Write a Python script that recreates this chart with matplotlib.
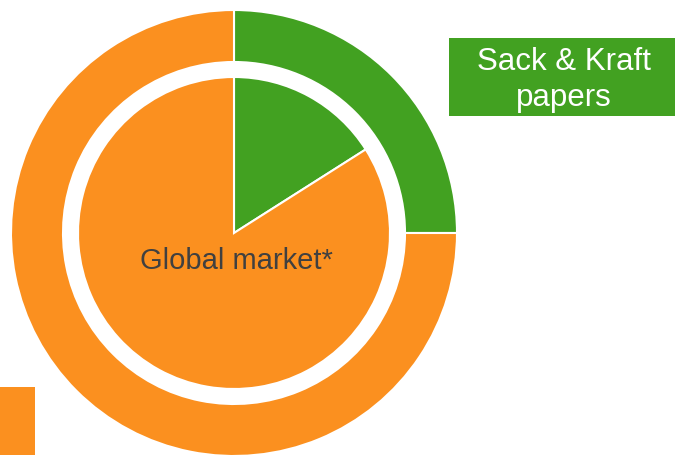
import matplotlib
matplotlib.use("Agg")
import matplotlib.pyplot as plt
from matplotlib.patches import Rectangle

plt.rcParams['font.family'] = ['Liberation Sans', 'DejaVu Sans']

GREEN = '#42A121'
ORANGE = '#FB901F'
TEXT = '#404040'

# shares in percent: sack & kraft papers vs. rest
segment_labels = ['Sack & Kraft papers', 'Other']
outer_shares = [25, 75]
inner_shares = [16, 84]
centre_label = 'Global market*'
box_label = 'Sack & Kraft\npapers'

W, H = 675, 456
fig = plt.figure(figsize=(W / 100, H / 100), dpi=100)
ax = fig.add_axes([0, 0, 1, 1])

cx, cy = 234, H - 234
colors = [GREEN, ORANGE]

ax.pie(outer_shares, colors=colors, radius=223, center=(cx, cy),
       startangle=90, counterclock=False,
       wedgeprops=dict(width=52, edgecolor='white', linewidth=1.5))
ax.pie(inner_shares, colors=colors, radius=156, center=(cx, cy),
       startangle=90, counterclock=False,
       wedgeprops=dict(edgecolor='white', linewidth=1.5))

ax.text(cx + 2, cy - 27, centre_label, ha='center', va='center',
        fontsize=21, color=TEXT)

# label box at top right
ax.add_patch(Rectangle((449, H - 117), 230, 78, facecolor=GREEN,
                       edgecolor='none'))
ax.text(564, H - 80, box_label, ha='center', va='center', fontsize=22.5,
        color='white', linespacing=1.3)

# legend swatch cut at the lower left edge
ax.add_patch(Rectangle((0, 0), 35, H - 388, facecolor=ORANGE,
                       edgecolor='none'))

ax.set_xlim(0, W)
ax.set_ylim(0, H)
ax.set_aspect('equal')
ax.axis('off')

fig.savefig('out.png', dpi=100)
